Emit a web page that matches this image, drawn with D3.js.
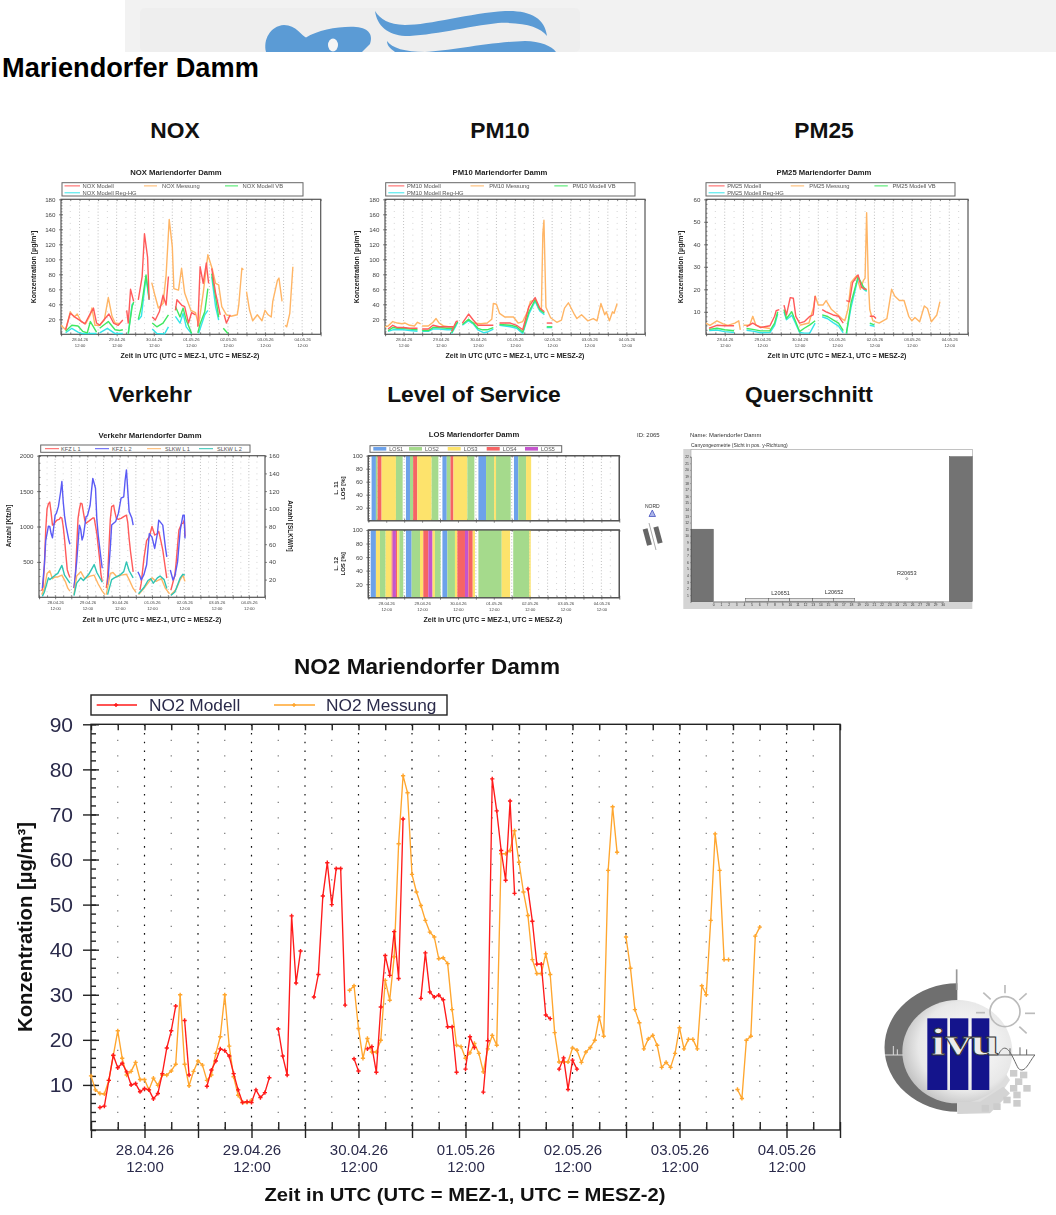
<!DOCTYPE html>
<html>
<head>
<meta charset="utf-8">
<title>Mariendorfer Damm</title>
<script src="https://cdnjs.cloudflare.com/ajax/libs/d3/7.8.5/d3.min.js"></script>
<style>
  html, body { margin: 0; padding: 0; background: #fff; }
  svg { display: block; font-family: "Liberation Sans", Arial, sans-serif; }
</style>
</head>
<body>
<svg id="page" width="1056" height="1215"></svg>
<script>
// hours are counted from 28.04.26 00:00 UTC, every series is a list of unbroken runs of [hour, value]
const dayLabels = ['28.04.26', '29.04.26', '30.04.26', '01.05.26', '02.05.26', '03.05.26', '04.05.26'];
const dayTicks = [12, 36, 60, 84, 108, 132, 156];
const timeLabel = '12:00';

const no2Modell = [
  [[2,5],[3,5.3],[4,11],[5,16.6],[6,13.8],[7,14.8],[8,12.9],[9,10],[10,10.3],[11,8.5],[12,9.2],[13,8.9],[14,6.9],[15,8.1],[16,12.5],[17,18.2],[18,22],[19,27.5]],
  [[21,24.3],[22,12.2]],
  [[26,9.7],[27,13.3],[28,15.3],[29,18],[30,17.6],[31,16.4],[32,12.5],[33,8.9],[34,6.1],[35,6.3],[36,6.1],[37,8.9],[38,7.2],[39,8.3],[40,11.6]],
  [[42,22.4],[43,16.4],[44,12.2],[45,47.5],[46,32.6],[47,39.7]],
  [[50,29.5],[51,34.5],[52,51.9],[53,59.3],[54,50],[55,58],[56,58],[57,27.7]],
  [[59,15.8],[60,13.1]],
  [[62,18],[63,18.5],[64,12.8],[65,27.3],[66,38.7],[67,34.3],[68,44],[69,33.6],[70,69]],
  [[74,29.2],[75,39.3],[76,30.6],[77,29.5],[78,29.9],[79,28.9],[80,22.9],[81,22.9],[82,12.8]],
  [[84,13.5],[85,20.7],[86,18.3]],
  [[88,8.4],[89,19.8],[90,77.9],[91,70.8],[92,62],[93,55.4],[94,73],[95,52.5]],
  [[98,53.5],[99,46.3],[100,36.8],[101,36.8],[102,25.5],[103,24.7]],
  [[105,13.5],[106,16],[107,9],[108,15.5],[109,13.5]]
];
const no2Messung = [
  [[0,12],[1,8.9],[2,8.1],[3,8],[4,11],[5,16.5],[6,22],[7,15.9],[8,12.2],[9,13],[10,15],[11,11.2],[12,11.2],[13,8.9],[14,11.5],[15,9.9],[16,12.2],[17,12.2],[18,13.1],[19,14.6],[20,30],[21,14.6],[22,9.8],[23,13],[24,15.3],[25,14.4],[26,11],[27,12.2],[28,17],[29,20.7],[30,30],[31,18.6],[32,11.8],[33,7.7],[34,6.1],[35,6.1],[36,6.6]],
  [[58,31],[59,32],[60,22.5],[61,15.9],[62,20.3],[63,17.3],[64,17.3],[65,19.9],[66,33.2],[67,28.8],[68,38.4],[69,63.5],[70,78.6],[71,74.8],[72,56.7],[73,52.8],[74,49.8],[75,46.5],[76,43.9],[77,42.8],[78,38],[79,38.2],[80,36.9],[81,26.7],[82,18.8],[83,18.5],[84,15.9],[85,17.1],[86,19.2],[87,17],[88,12.9],[89,18],[90,21],[91,18.8],[92,61.3],[93,61.3],[94,62],[95,66.4],[96,59.4],[97,52.8],[98,47.6],[99,37.8],[100,34.7],[101,34.7],[102,39.1],[103,34.5],[104,21.6],[105,15.1],[106,15.1],[107,15.1],[108,18.2],[109,17.7],[110,15],[111,17.3],[112,18.3],[113,19.9],[114,25.1],[115,20.8],[116,57.6],[117,71.7],[118,61.6]],
  [[120,42.8],[121,35.9],[122,26.7],[123,23.8],[124,18],[125,20.2],[126,21],[127,18.8],[128,13.9],[129,15],[130,13.9],[131,17],[132,22.7],[133,18],[134,20.1],[135,20.1],[136,18],[137,32],[138,30],[139,46.5],[140,65.7],[141,57.6],[142,37.8],[143,37.8]],
  [[145,9],[146,7],[147,19.9],[148,20.8],[149,43],[150,45]]
];

const noxMessung = [
  [[0,12],[3,6],[6,30],[8.5,23],[10.5,27],[13,17],[16,14],[19,26],[20,35],[22,12],[25,12],[28,19],[30.6,49],[33,24],[35,15],[38,14]],
  [[58.7,69],[61,50],[63,35],[66,41],[68,79],[70,153],[72,117],[73,61],[76,59],[78,88],[80,55],[84,32],[87,29],[89,12],[92,55],[95,106],[98,86],[100,68],[102,66],[104,37],[107,26],[110,24],[114,26],[115,39],[117,88],[118,86]],
  [[120,57],[122,32],[124,18],[127,26],[130,18],[132,32],[134,26],[136,23],[137,44],[140,72],[141,75],[143,44]],
  [[145,12],[146,10],[148,28],[150,90]]
];
const noxModell = [
  [[3,6],[6,28],[9,23],[12,19],[15.5,14],[19,28],[21,35],[23,15],[25,12],[28.5,21],[31,27],[34,15],[37,12],[40,19]],
  [[42.5,32],[43.5,15],[45,60],[47,44]],
  [[50,46],[52.5,77],[54,134],[56,103],[57,46]],
  [[59,23],[61,19],[63.6,30],[66,52],[68,39],[69.5,77]],
  [[74,32],[75,46],[78,39],[80,37],[82.5,15],[84.5,29],[87,26]],
  [[88.5,10],[90,90],[92,68],[94,95],[95.5,68]],
  [[97.5,88],[100,55],[101,46],[103,26]],
  [[105.5,26],[107,15],[109.5,26]]
];
const noxVb = [
  [[3,4],[7,12],[11,11],[14,4],[17,2],[19,17],[21,10],[23,3]],
  [[25,8],[30.6,17],[35,6],[38,5],[40,6]],
  [[43.5,1],[46,37],[47,43]],
  [[50,20],[52,37],[55,79],[57,48]],
  [[59,15],[62,10],[66,15],[69.5,26]],
  [[74,37],[77,23],[79,35],[81,19],[84.5,1]],
  [[88.5,2],[90,14],[93,30],[95,61]],
  [[97.5,81],[100,50],[102,23]],
  [[105,8],[108,1]]
];
const noxRegHg = [
  [[3,2],[7,8],[11,3],[14,1],[19,1],[23,1]],
  [[25,2],[30,8],[35,1],[40,1]],
  [[43.5,0.5],[46,40],[47,41]],
  [[50,19],[52,24],[55,77],[57,46]],
  [[59,7],[62,1],[67,0.5],[69.5,10]],
  [[74,24],[77,15],[79,28],[81,10],[84.5,0.5]],
  [[89,1],[93,26],[95,32]],
  [[97.5,77],[100,37],[102,19]]
];

const pm10Messung = [
  [[0,10],[2,11],[5,17],[8,15],[11,14],[13,15],[16,12],[19,11],[21,16],[23,14]],
  [[24,11],[28,11],[31,16],[33,21],[35,15],[38,11],[41,10],[44,10]],
  [[56,15],[62,14],[66,15],[69,20],[70,41],[72,40],[74,28],[77.5,23],[83,23],[86,15],[89,17],[92,30],[94,44],[97,46],[99,35],[101,30],[102,134],[102.7,152],[104,36],[107,22],[109,19],[111,16],[114,19],[116,35],[118.5,42],[122,28],[124,21],[127,26],[131,18],[134.6,21],[137,18],[139.5,41],[142,26],[143,30],[145,18],[147,30],[148,28],[150,41]]
];
const pm10Modell = [
  [[2,7],[5,12],[8,9],[12,9],[16,8],[21,8]],
  [[24,7],[28,7],[31,12],[35,10],[40,10],[44,10]],
  [[43,4],[46,17],[47,18]],
  [[50,15],[54,27],[57,19],[60,12],[66,12],[70,12]],
  [[74,15],[81,15],[85,12],[89,6],[93,37],[97,49],[100,35],[103,30]],
  [[104.5,15],[108,15]]
];
const pm10Vb = [
  [[2,5],[5,9],[8,8],[12,8],[16,7],[21,6]],
  [[24,5],[28,5],[31,9],[35,9],[40,8],[44,8]],
  [[43,2],[46,14],[47,17]],
  [[50,13],[54,20],[57,15],[60,8],[63,6],[66,6],[70,9]],
  [[74,13],[81,12],[85,10],[89,3],[93,30],[97,46],[100,33],[103,28]],
  [[104.5,10],[108,10]]
];
const pm10RegHg = [
  [[2,4],[5,6],[8,6],[12,6],[16,5],[21,4]],
  [[24,4],[28,4],[31,7],[35,7],[40,6],[44,6]],
  [[43,1],[46,12],[47,16]],
  [[50,12],[54,18],[57,14],[60,6],[64,2],[66,3],[70,7]],
  [[74,12],[81,10],[85,8],[89,1],[93,27],[97,44],[100,31],[103,26]],
  [[104.5,9],[108,9]]
];

const pm25Messung = [
  [[0,5],[2.5,4],[7,6],[11,4.6],[14,4],[18.5,5],[21,6],[22,2]],
  [[24,4],[28,4],[30,8],[32,4],[37,3],[41,2.6]],
  [[60,4],[66,5],[69,12],[70,17],[72,13],[75,13],[77,15],[80.5,11],[84,9],[87,7],[89,6],[91,11],[93,23],[96.5,26],[99,20],[101,24],[102,25],[103,54],[104,25],[105,11],[107,6],[111,5],[116,7],[119,20],[121,17],[124,15],[127,15],[130,8],[132,6],[134,7.5],[137,5.6],[140,12.6],[142,11.5],[144.5,5.6],[148,8.6],[150,14.5]]
];
const pm25Modell = [
  [[2,2.7],[7,4],[12,3.8],[18,3.8]],
  [[26,3.4],[30,5],[35,3],[41,3.8],[44,8],[45,10.5],[47,11]],
  [[50,13],[51.6,8.6],[54,16.3],[56,16],[57.6,8],[60,5],[63,5.6],[66.6,8],[68.7,8.6],[70,17]],
  [[74.5,11],[77,10],[81.5,8.6],[85,8],[88,5]],
  [[90,15],[92,14.5],[94,23],[97.5,26.4],[99.7,21],[102,20],[103,20]],
  [[105,8],[107.6,8],[109,7]]
];
const pm25Vb = [
  [[2,2.2],[7,2.7],[12,2],[18,1.6]],
  [[26,2.6],[30,2.2],[35,1.5],[41,1.6],[44,5],[46,10]],
  [[50,11],[51.6,7],[55,10],[57,6.5],[60,1.2],[63,2.7],[66.6,4.2],[70,6]],
  [[74.5,8.6],[78,7.9],[81.5,6.4],[85,5],[88,1.6]],
  [[90,0.4],[93,14],[97.5,25.5],[101,21],[103,19.4]],
  [[105,5],[108,4.2]]
];
const pm25RegHg = [
  [[2,1.7],[7,1.9],[12,1.2],[18,0.8]],
  [[26,1.8],[30,1.4],[35,0.7],[41,0.8],[44,4],[46,9]],
  [[50,10],[51.6,6.5],[55,8.5],[57,5.5],[60,0.8],[63,0.5],[66.6,0.6],[70,5]],
  [[74.5,7.8],[78,6.9],[81.5,5.2],[85,3.6],[88,0.7]],
  [[90,0.2],[93,12],[97.5,25],[101,20],[103,19]],
  [[105,4],[108,3.6]]
];

const kfzL1 = [
  [[2,90],[3,150],[4,450],[5,950],[6,1250],[7,1320],[8,1345],[9,1200],[10,1020],[11,1030],[12,1060],[13,1085],[14,1095],[15,1100],[16,1130],[17,1120],[18,1000],[19,820],[20,600],[21,390],[22,330],[23,280]],
  [[26,130],[27,300],[28,700],[29,1110],[30,1240],[31,1330],[32,1320],[33,1200],[34,1090],[35,1045],[36,1060],[38,1090],[40,1120],[41,1120],[43,900],[45,550],[46,330],[47,220]],
  [[50,130],[51,280],[52,700],[53,1100],[54,1280],[55.5,1300],[56,1240],[57.5,1115],[59,1100],[61,1115],[63,1140],[65,1160],[66,1050],[67,830],[68,650],[70,360]],
  [[75,100],[76,200],[78,550],[80,800],[82,855],[84,1000],[86,880],[88,900],[89,930],[90,850],[92,670],[94,400],[95,270]],
  [[98,100],[99,170],[101,315],[102,500],[104,950],[106,1040],[107,1045],[108,1090],[108.5,860]]
];
const kfzL2 = [
  [[2.5,130],[4,460],[5,800],[7,1005],[8,1000],[9,900],[10,840],[11,1000],[12,1160],[13,1190],[14.4,1280],[16,1480],[17,1635],[18,1350],[19,1150],[20,1020],[22,820],[23,750]],
  [[26,130],[28,500],[30,1020],[31,960],[32,810],[33,870],[35,1140],[36,1150],[38,1300],[39,1500],[40,1680],[42,1540],[43,1100],[44,880],[46,560],[47,410]],
  [[51,175],[53,700],[54,1020],[57,1070],[59,1185],[61,1400],[63,1420],[64,1650],[65,1800],[66,1500],[67,1210],[69,1120],[70,1020]],
  [[73.5,360],[75,300],[76,245],[78,320],[80,460],[82,900],[84,850],[86,690],[88,900],[89,1090],[92,1020],[94,700],[95,570]],
  [[97.6,385],[99.6,245],[101,300],[103,500],[105,950],[107,1160],[108,1160],[108.5,830]]
];
const slkwL1 = [
  [[2,3],[4,10],[6,27],[8,30],[10,21],[12,23],[14,23],[17,25],[19.5,18],[21.5,10],[23,7]],
  [[26,3],[28,24],[31,29],[34,21],[38,24],[41,25],[44,15],[47,7],[49,3]],
  [[50,3],[53,27],[55,28],[58,23],[61,25],[65,26],[67,20],[70,10],[72,6]],
  [[74,3],[78,10],[82,18],[84,22],[87,18],[91,21],[94,10],[97,4]],
  [[98,3],[102,9],[105,20],[107,25],[108.5,18]]
];
const slkwL2 = [
  [[2.5,1],[4,6],[7,22],[8,20],[12,25],[14,27],[17,36],[19,25],[23,16]],
  [[26,2],[28,16],[31,22],[33,19],[37,26],[41,37],[43,28],[47,17]],
  [[51,3],[54,20],[56,22],[60,25],[63,29],[65,40],[67,30],[70,22]],
  [[74,4],[78,11],[81,19],[83,21],[85,16],[88,22],[90,24],[93,20],[95,10]],
  [[98,2],[101,6],[103,14],[105,22],[107,26],[108.5,25]]
];

const losNames = ['LOS1', 'LOS2', 'LOS3', 'LOS4', 'LOS5'];
// runs of the prevailing class per lane: [from hour, to hour, class index]
const losLane1 = [[2.2,5.1,0],[5.1,6.25,1],[6.25,8.9,3],[8.9,18.5,2],[18.5,23,1],[25.2,27.9,0],[27.9,30,1],[30,32.8,3],[32.8,42.4,2],[42.4,46.9,1],[49.6,52.5,0],[52.5,55,1],[55,57,3],[57,66.3,2],[66.3,71,1],[73.7,78.8,0],[78.8,84.2,1],[84.2,85.5,2],[85.5,95.3,1],[97.5,100.4,0],[100.4,105.6,1],[105.6,109,2]];
const losLane2 = [[1.6,5.1,0],[5.1,7.8,2],[7.8,11.6,1],[11.6,15.6,2],[15.6,16.3,3],[16.3,18.5,4],[18.5,19.4,3],[19.4,20.8,2],[20.8,23.4,1],[25.2,29,0],[29,34.6,1],[34.6,36.8,2],[36.8,40.2,3],[40.2,43,4],[43,44.6,2],[44.6,48.4,1],[49.6,52.9,0],[52.9,58,1],[58,59.6,2],[59.6,64.7,3],[64.7,67,4],[67,69.9,3],[69.9,71.4,2],[73.7,89.3,1],[89.3,94.9,2],[97,107.8,1],[107.8,108.7,2]];

// street cross section, metres
const buildings = [[-3,0,11],[30,34,22]];
const laneStrips = [[4.2,7.2],[7.2,10],[10,13],[13,15.7],[15.7,18.5]];
const laneNames = [['L20651',8.8,0.7],['L20652',15.8,0.9]];
const receptor = ['R20653',25.3,3.5];
const sectionYTicks = d3.range(1, 23);
const sectionXTicks = d3.range(0, 31);

const colors = { red:'#ff1a1a', orange:'#ffa62e', sRed:'#ff5a5a', sOrange:'#ffb565', sGreen:'#3fe860', sCyan:'#35e6ea', blue:'#5b5bf5', teal:'#2fc4b4' };
const losColors = ['#6da2ea', '#a5da8c', '#fde36c', '#f66464', '#c455cc'];
const hoursDomain = [0, 168];

const svg = d3.select('#page');
const defs = svg.append('defs');
const pageLine = d3.line().x(d => d[0]).y(d => d[1]);

function label(g, txt, x, y, size, opts) {
  opts = opts || {};
  const t = g.append('text').attr('x', x).attr('y', y).text(txt)
    .attr('font-size', size)
    .attr('font-weight', opts.bold ? 'bold' : null)
    .attr('text-anchor', opts.anchor || 'middle')
    .attr('fill', opts.fill || '#000')
    .attr('transform', opts.rot ? `rotate(${opts.rot} ${x} ${y})` : null);
  if (opts.len) t.attr('textLength', opts.len).attr('lengthAdjust', 'spacingAndGlyphs');
  return t;
}

// frame, dotted grid, ticks and labels for one time panel
function timePanel(parent, o) {
  const g = parent.append('g').attr('transform', `translate(${o.left},${o.top})`);
  const w = o.right - o.left, h = o.bottom - o.top;
  const x = d3.scaleLinear().domain(hoursDomain).range([0, w]);
  const y = d3.scaleLinear().domain([0, o.yMax]).range([h, 0]);
  const s = o.style;
  const grid = (vals, dash, col, width) => g.append('g').selectAll('line').data(vals).join('line')
    .attr('x1', d => x(d)).attr('x2', d => x(d)).attr('y1', 0).attr('y2', h)
    .attr('stroke', col).attr('stroke-width', width).attr('stroke-dasharray', dash);
  grid(d3.range(12, 168, 12), s.majorDash, s.majorGrid, s.gridWidth);
  grid(d3.range(6, 168, 12), s.minorDash, s.minorGrid, s.gridWidth);

  const style = sel => {
    sel.select('.domain').remove();
    sel.selectAll('line').attr('stroke', s.axis).attr('stroke-width', s.tickWidth);
    sel.selectAll('text').attr('fill', s.text).attr('font-family', null);
  };
  const yMinor = d3.range(0, o.yMax + 0.001, o.yMinor);
  g.append('g').call(d3.axisRight(y).tickValues(yMinor).tickSize(s.inTick).tickFormat('')).call(style);
  g.append('g').call(d3.axisLeft(y).tickValues(o.yTicks).tickSize(s.outTick).tickPadding(s.yPad).tickFormat(d3.format('d'))).call(style)
    .selectAll('text').attr('font-size', s.yFont);
  g.append('g').call(d3.axisRight(y).tickValues(o.yTicks).tickSize(s.outTick).tickFormat('')).call(style);
  const xTop = d3.range(0, 169, 6);
  g.append('g').call(d3.axisBottom(x).tickValues(xTop).tickSize(s.inTick * 1.2).tickFormat('')).call(style);
  g.append('g').attr('transform', `translate(0,${h})`).call(d3.axisTop(x).tickValues(xTop).tickSize(s.outTick).tickFormat('')).call(style);
  g.append('g').attr('transform', `translate(0,${h})`).call(d3.axisBottom(x).tickValues(d3.range(0, 169, 12)).tickSize(s.outTick).tickFormat('')).call(style);
  if (!o.noTimeLabels) {
    [[d => dayLabels[dayTicks.indexOf(d)], s.xPad1], [() => timeLabel, s.xPad2]].forEach(([fmt, pad]) => {
      g.append('g').attr('transform', `translate(0,${h})`)
        .call(d3.axisBottom(x).tickValues(dayTicks).tickSize(0).tickPadding(pad).tickFormat(fmt)).call(style)
        .selectAll('text').attr('font-size', s.xFont);
    });
  }
  g.append('rect').attr('width', w).attr('height', h).attr('fill', 'none').attr('stroke', s.axis).attr('stroke-width', s.frame);
  return { g, x, y, w, h };
}

function drawSeries(p, runs, col, width, yScale, mark) {
  const yy = yScale || p.y;
  const line = d3.line().x(d => p.x(d[0])).y(d => yy(d[1]));
  const s = p.g.append('g');
  s.selectAll('path').data(runs).join('path').attr('d', line)
    .attr('fill', 'none').attr('stroke', col).attr('stroke-width', width).attr('stroke-linejoin', 'round');
  if (mark) {
    s.selectAll('path.mark').data(runs.flat()).join('path').attr('class', 'mark')
      .attr('transform', d => `translate(${p.x(d[0])},${yy(d[1])})`)
      .attr('d', d3.symbol().type(d3.symbolCross).size(mark)).attr('fill', col);
  }
}

function legendBox(g, x0, y0, x1, y1, col, width) {
  g.append('rect').attr('x', x0).attr('y', y0).attr('width', x1 - x0).attr('height', y1 - y0)
    .attr('fill', '#fff').attr('stroke', col).attr('stroke-width', width);
}
function legendLine(g, x0, x1, y, col, width, txt, tx, size, tcol) {
  g.append('line').attr('x1', x0).attr('x2', x1).attr('y1', y).attr('y2', y).attr('stroke', col).attr('stroke-width', width);
  label(g, txt, tx, y + size * 0.36, size, { anchor: 'start', fill: tcol });
}

// ----- page header -----
svg.append('rect').attr('x', 125).attr('y', 0).attr('width', 931).attr('height', 52).attr('fill', '#f2f2f2');
svg.append('rect').attr('x', 140).attr('y', 8).attr('width', 440).attr('height', 44).attr('rx', 5).attr('fill', '#eeeeee');
const fish = svg.append('g').attr('fill', '#5b9bd5');
fish.append('path').attr('d', 'M266,52 C263,40 270,26 284,25 C296,25 302,36 306,37.5 C318,30 340,26 356,27 C370,28 373,36 370,44 L362,52 Z');
fish.append('ellipse').attr('cx', 333).attr('cy', 45).attr('rx', 5).attr('ry', 6.5).attr('fill', '#f5f5f5');
fish.append('path').attr('d', 'M375,11 C381,20 388,24 405,25 C430,25 470,13 505,11 C530,10 545,18 547,36 C540,27 525,22 498,23 C470,26 430,36 405,36 C388,35 377,26 375,11 Z');
fish.append('path').attr('d', 'M395,52 C391,49 387,46 387,41 C392,48 405,52 425,52 C450,51 490,42 525,41 C540,41 552,46 556,52 Z');

label(svg, 'Mariendorfer Damm', 2, 77, 27.2, { anchor: 'start', bold: true });
[['NOX',175,138],['PM10',500,138],['PM25',824,138],['Verkehr',150,402],['Level of Service',474,402],['Querschnitt',809,402]]
  .forEach(d => label(svg, d[0], d[1], d[2], 22.8, { bold: true, fill:'#111' }));

// ----- small panels -----
const small = svg.append('g').style('filter', 'blur(0.75px)');
const smallStyle = { majorDash:'0.9 2.2', minorDash:'0.9 5', majorGrid:'#999', minorGrid:'#bbb', gridWidth:0.7, axis:'#555', tickWidth:0.7,
  frame:1.2, text:'#444', yFont:6.2, xFont:4.2, inTick:1.5, outTick:2, yPad:3.5, xPad1:4, xPad2:10 };
const concTicks = d3.range(20, 181, 20);
const seriesWidth = 1.4;

function concPanel(o) {
  const p = timePanel(small, { left:o.left, right:o.right, top:199.3, bottom:334.3, yMax:o.yMax, yTicks:o.yTicks, yMinor:o.yMinor, style:smallStyle });
  drawSeries(p, o.messung, colors.sOrange, seriesWidth);
  drawSeries(p, o.regHg, colors.sCyan, seriesWidth);
  drawSeries(p, o.vb, colors.sGreen, seriesWidth);
  drawSeries(p, o.modell, colors.sRed, seriesWidth);
  label(small, o.name + ' Mariendorfer Damm', o.titleX, 175, 7.7, { bold:true, fill:'#222' });
  label(small, 'Zeit in UTC (UTC = MEZ-1, UTC = MESZ-2)', o.axisX, 358, 7, { bold:true, fill:'#222' });
  label(small, 'Konzentration [µg/m³]', o.labelX, 267, 7, { bold:true, rot:-90, fill:'#222' });
  const L = o.legendLeft, R = o.legendRight, k = (R - L) / 241;
  legendBox(small, L, 182.7, R, 196, '#666', 1);
  const e = [[2.5,18,20.5,185.9,o.name+' Modell',colors.sRed],[82,95,100,185.9,o.name+' Messung',colors.sOrange],[163,176,180.5,185.9,o.name+' Modell VB',colors.sGreen],[2.5,18,20.5,192.8,o.name+' Modell Reg-HG',colors.sCyan]];
  e.forEach(d => legendLine(small, L + d[0] * k, L + d[1] * k, d[3], d[5], 1, d[4], L + d[2] * k, 5.8, '#555'));
}
concPanel({ name:'NOX', left:61, right:320.7, yMax:180, yTicks:concTicks, yMinor:4, messung:noxMessung, modell:noxModell, vb:noxVb, regHg:noxRegHg, titleX:176, axisX:190, labelX:36, legendLeft:62, legendRight:303 });
concPanel({ name:'PM10', left:385, right:645, yMax:180, yTicks:concTicks, yMinor:4, messung:pm10Messung, modell:pm10Modell, vb:pm10Vb, regHg:pm10RegHg, titleX:500, axisX:515, labelX:359, legendLeft:385.7, legendRight:635 });
concPanel({ name:'PM25', left:706, right:968, yMax:60, yTicks:d3.range(10, 61, 10), yMinor:2, messung:pm25Messung, modell:pm25Modell, vb:pm25Vb, regHg:pm25RegHg, titleX:824, axisX:837, labelX:683, legendLeft:706, legendRight:955 });

// traffic panel with a second axis for lorries
const tp = timePanel(small, { left:39, right:265, top:455.7, bottom:597.3, yMax:2000, yTicks:d3.range(500, 2001, 500), yMinor:100, style:smallStyle });
const ySlkw = d3.scaleLinear().domain([0, 160]).range([tp.h, 0]);
const rightAxis = tp.g.append('g').attr('transform', `translate(${tp.w},0)`)
  .call(d3.axisRight(ySlkw).tickValues(d3.range(20, 161, 20)).tickSize(2).tickPadding(2));
rightAxis.select('.domain').remove();
rightAxis.selectAll('line').attr('stroke', '#555').attr('stroke-width', 0.7);
rightAxis.selectAll('text').attr('font-size', 6.2).attr('font-family', null).attr('fill', '#444');
drawSeries(tp, kfzL1, colors.sRed, seriesWidth);
drawSeries(tp, kfzL2, colors.blue, seriesWidth);
drawSeries(tp, slkwL1, colors.sOrange, seriesWidth, ySlkw);
drawSeries(tp, slkwL2, colors.teal, seriesWidth, ySlkw);
label(small, 'Verkehr Mariendorfer Damm', 150, 437.5, 7.7, { bold:true, fill:'#222' });
label(small, 'Zeit in UTC (UTC = MEZ-1, UTC = MESZ-2)', 152, 621.5, 7, { bold:true, fill:'#222' });
label(small, 'Anzahl [Kfz/h]', 11, 526, 6.4, { bold:true, rot:-90, fill:'#222' });
label(small, 'Anzahl [SLKW/h]', 288, 526, 6.4, { bold:true, rot:90, fill:'#222' });
legendBox(small, 40.7, 445, 250, 452.3, '#666', 1);
[['KFZ L 1',45,59,61,colors.sRed],['KFZ L 2',95,109,112,colors.blue],['SLKW L 1',147,161,165,colors.sOrange],['SLKW L 2',199,213,217,colors.teal]]
  .forEach(d => legendLine(small, d[1], d[2], 448.7, d[4], 1, d[0], d[3], 5.6, '#555'));

// level of service, one panel per lane
function losPanel(bands, top, bottom, laneName, withLabels) {
  const p = timePanel(small, { left:368.3, right:619.3, top, bottom, yMax:100, yTicks:d3.range(20, 101, 20), yMinor:4, style:smallStyle, noTimeLabels:!withLabels });
  p.g.append('g').selectAll('rect').data(bands).join('rect')
    .attr('x', d => p.x(d[0])).attr('width', d => p.x(d[1]) - p.x(d[0]))
    .attr('y', p.y(100)).attr('height', p.y(0) - p.y(100)).attr('fill', d => losColors[d[2]]);
  p.g.append('rect').attr('width', p.w).attr('height', p.h).attr('fill', 'none').attr('stroke', '#555').attr('stroke-width', 1.2);
  label(small, laneName, 338, (top + bottom) / 2, 6, { bold:true, rot:-90, fill:'#222' });
  label(small, 'LOS [%]', 345, (top + bottom) / 2, 6, { bold:true, rot:-90, fill:'#222' });
}
losPanel(losLane1, 455.7, 520.7, 'L. 11', false);
losPanel(losLane2, 530, 597.7, 'L. 12', true);
label(small, 'LOS Mariendorfer Damm', 474, 436.5, 7.7, { bold:true, fill:'#222' });
label(small, 'Zeit in UTC (UTC = MEZ-1, UTC = MESZ-2)', 493, 621.5, 7, { bold:true, fill:'#222' });
legendBox(small, 370, 445.7, 561.7, 452.3, '#666', 1);
losNames.forEach((n, i) => {
  const x0 = [373.3, 409, 447.7, 486.7, 525][i];
  small.append('rect').attr('x', x0).attr('y', 447).attr('width', 13).attr('height', 3.6).attr('fill', losColors[i]);
  label(small, n, x0 + 16, 451, 5.4, { anchor:'start', fill:'#555' });
});

// cross section
const sec = small.append('g');
const secXt = d3.scaleLinear().domain([0, 30]).range([713.3, 942.7]);
const secY = d3.scaleLinear().domain([0, 22]).range([601.7, 456.7]);
sec.append('rect').attr('x', 683.3).attr('y', 449).attr('width', 289).attr('height', 160).attr('fill', '#d4d4d4');
sec.append('rect').attr('x', 691).attr('y', 449.5).attr('width', 281.3).attr('height', 152.2).attr('fill', '#fff').attr('stroke', '#999').attr('stroke-width', 0.5);
sec.selectAll('rect.b').data(buildings).join('rect').attr('class', 'b')
  .attr('x', d => d[0] < 0 ? 691 : secXt(d[0]) + 6.6).attr('y', d => secY(d[2]))
  .attr('width', d => d[0] < 0 ? 22.3 : 22.9).attr('height', d => secY(0) - secY(d[2]))
  .attr('fill', '#737373').attr('stroke', '#555').attr('stroke-width', 0.5);
sec.selectAll('rect.l').data(laneStrips).join('rect').attr('class', 'l')
  .attr('x', d => secXt(d[0])).attr('width', d => secXt(d[1]) - secXt(d[0]))
  .attr('y', secY(0.5)).attr('height', secY(0) - secY(0.5))
  .attr('fill', '#e4e4e4').attr('stroke', '#555').attr('stroke-width', 0.5);
const secAxisY = sec.append('g').attr('transform', 'translate(691,0)').call(d3.axisLeft(secY).tickValues(sectionYTicks).tickSize(1).tickPadding(1));
const secAxisX = sec.append('g').attr('transform', 'translate(0,601.7)').call(d3.axisBottom(secXt).tickValues(sectionXTicks).tickSize(1).tickPadding(1));
[secAxisY, secAxisX].forEach(a => {
  a.select('.domain').attr('stroke', '#555').attr('stroke-width', 0.5);
  a.selectAll('line').attr('stroke', '#555').attr('stroke-width', 0.4);
  a.selectAll('text').attr('font-size', 3.4).attr('font-family', null).attr('fill', '#333');
});
laneNames.forEach(d => label(sec, d[0], secXt(d[1]), secY(d[2]) - 2, 5.6, { fill:'#333' }));
label(sec, receptor[0], secXt(receptor[1]), secY(receptor[2]) - 4, 5.6, { fill:'#333' });
sec.append('circle').attr('cx', secXt(receptor[1])).attr('cy', secY(receptor[2])).attr('r', 1).attr('fill', 'none').attr('stroke', '#555').attr('stroke-width', 0.5);
label(sec, 'ID: 2065', 637, 436.5, 6, { anchor:'start', fill:'#333' });
label(sec, 'Name: Mariendorfer Damm', 690, 436.5, 5.9, { anchor:'start', fill:'#333' });
label(sec, 'Canyongeometrie (Sicht in pos. y-Richtung)', 691, 447, 5, { anchor:'start', fill:'#333' });
label(sec, 'NORD', 652.3, 508, 5, { fill:'#333' });
sec.append('path').attr('d', 'M652.3,510 L655.5,516.5 L649,516.5 Z').attr('fill', '#aab4e8').attr('stroke', '#4a55c0').attr('stroke-width', 0.8);
sec.append('path').attr('d', pageLine([[649,523],[656,550]])).attr('stroke', '#aaa').attr('stroke-width', 1);
sec.append('rect').attr('x', -2.5).attr('y', -8.5).attr('width', 5).attr('height', 17).attr('fill', '#666').attr('transform', 'translate(647.3,537) rotate(-15)');
sec.append('rect').attr('x', -2.5).attr('y', -8.5).attr('width', 5).attr('height', 17).attr('fill', '#666').attr('transform', 'translate(658,535) rotate(-15)');

// ----- NO2 main panel -----
const bigStyle = { majorDash:'1.6 7.1', minorDash:'1.2 14.3', majorGrid:'#111', minorGrid:'#777', gridWidth:1.2, axis:'#222', tickWidth:1.4,
  frame:1.4, text:'#2a2a4a', yFont:21, xFont:15, inTick:5, outTick:8, yPad:10, xPad1:14, xPad2:31 };
const main = svg.append('g').style('filter', 'blur(0.3px)');
const mp = timePanel(main, { left:91, right:840, top:724.3, bottom:1130, yMax:90, yTicks:d3.range(10, 91, 10), yMinor:2, style:bigStyle });
drawSeries(mp, no2Messung, colors.orange, 1.35, null, 10);
drawSeries(mp, no2Modell, colors.red, 1.35, null, 10);
label(main, 'NO2 Mariendorfer Damm', 427, 674, 21.5, { bold:true, fill:'#111', len:266 });
label(main, 'Konzentration [µg/m³]', 32, 927, 19.5, { bold:true, rot:-90, fill:'#111', len:210 });
label(main, 'Zeit in UTC (UTC = MEZ-1, UTC = MESZ-2)', 465, 1201, 18.5, { bold:true, fill:'#111', len:401 });
legendBox(main, 91, 695, 447, 715, '#222', 1.4);
legendLine(main, 96.7, 137, 705, colors.red, 1.4, 'NO2 Modell', 149, 17.3, '#2a2a4a');
legendLine(main, 274, 315, 705, colors.orange, 1.4, 'NO2 Messung', 326, 17.3, '#2a2a4a');
main.append('path').attr('transform', 'translate(116,705)').attr('d', d3.symbol().type(d3.symbolCross).size(10)).attr('fill', colors.red);
main.append('path').attr('transform', 'translate(294,705)').attr('d', d3.symbol().type(d3.symbolCross).size(10)).attr('fill', colors.orange);

// ----- institute logo, drawn at 3x -----
const logo = svg.append('g').attr('transform', 'translate(870,960) scale(0.3333)');
const ringGrad = defs.append('radialGradient').attr('id', 'sphere').attr('cx', '58%').attr('cy', '45%').attr('r', '62%');
ringGrad.append('stop').attr('offset', '0%').attr('stop-color', '#ffffff');
ringGrad.append('stop').attr('offset', '70%').attr('stop-color', '#e8e8e8');
ringGrad.append('stop').attr('offset', '100%').attr('stop-color', '#bdbdbd');
logo.append('path').attr('d', 'M262,70 A218,192 0 0 0 262,455 Z').attr('fill', '#6f6f6f');
logo.append('path').attr('d', 'M262,455 A190,195 0 0 0 420,360 L400,330 L262,330 Z').attr('fill', '#ddd');
logo.append('ellipse').attr('cx', 262).attr('cy', 275).attr('rx', 165).attr('ry', 155).attr('fill', 'url(#sphere)');
logo.append('path').attr('d', 'M262,455 L262,425 L330,425 L400,380 L420,400 L360,460 L262,462 Z').attr('fill', '#d4d4d4');
logo.append('line').attr('x1', 260).attr('y1', 28).attr('x2', 260).attr('y2', 90).attr('stroke', '#999').attr('stroke-width', 5);
logo.append('circle').attr('cx', 405).attr('cy', 155).attr('r', 45).attr('fill', 'none').attr('stroke', '#bbb').attr('stroke-width', 5);
[[405,75,405,100],[340,98,362,118],[470,100,448,120],[318,158,345,158],[465,160,495,160],[448,200,470,220]].forEach(d =>
  logo.append('line').attr('x1', d[0]).attr('y1', d[1]).attr('x2', d[2]).attr('y2', d[3]).attr('stroke', '#bbb').attr('stroke-width', 5));
logo.selectAll('rect.px').data([[420,330],[450,335],[435,355],[420,375],[460,375],[430,395],[400,410],[430,420],[370,430],[335,435]]).join('rect').attr('class', 'px')
  .attr('x', d => d[0]).attr('y', d => d[1]).attr('width', 22).attr('height', 20).attr('fill', '#ccc');
logo.selectAll('rect.bar').data([[172,60],[240,55],[305,53]]).join('rect').attr('class', 'bar')
  .attr('x', d => d[0]).attr('y', 175).attr('width', d => d[1]).attr('height', 215).attr('fill', '#14148c');
logo.append('text').attr('x', 183).attr('y', 285).attr('font-size', 112).attr('font-family', '"Liberation Serif", serif').attr('font-weight', 'bold')
  .attr('textLength', 205).attr('lengthAdjust', 'spacingAndGlyphs').attr('fill', '#ececec').attr('stroke', '#333').attr('stroke-width', 2.5).text('ivu');
logo.append('path').attr('d', 'M385,285 C410,230 430,300 445,325 C465,345 480,300 495,285 M385,285 L495,285 M420,285 V265 M450,285 V262 M470,285 V268').attr('fill', 'none').attr('stroke', '#666').attr('stroke-width', 3);
logo.append('path').attr('d', 'M45,285 H100 M70,285 V258 M82,285 V268').attr('fill', 'none').attr('stroke', '#ddd').attr('stroke-width', 3);
</script>
</body>
</html>
